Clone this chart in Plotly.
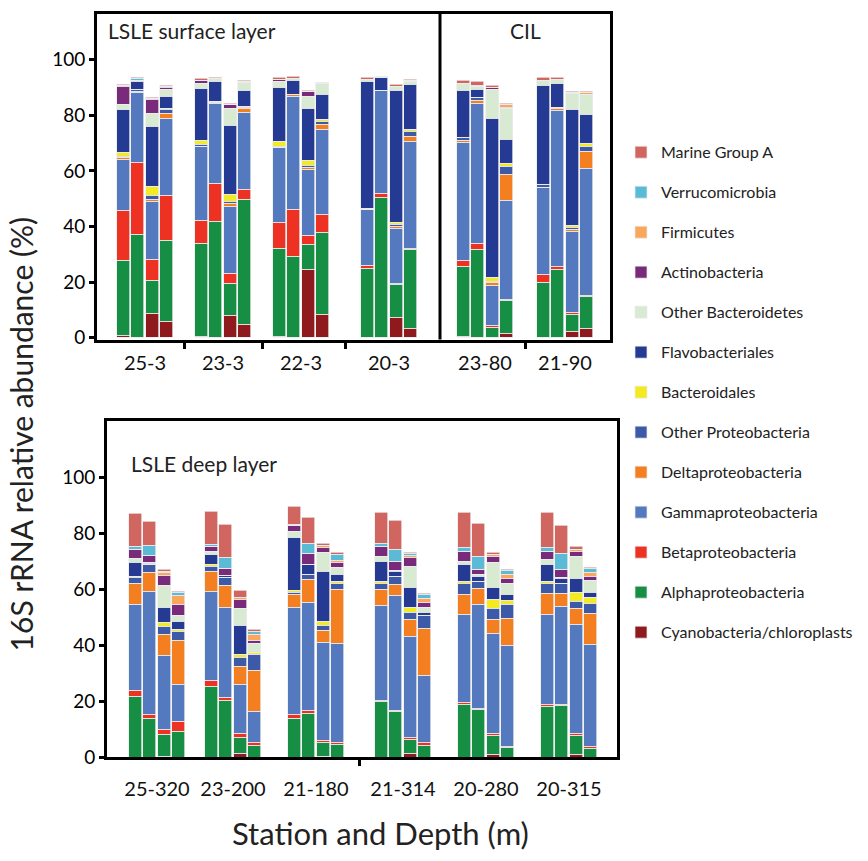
import plotly.graph_objects as go

W, H = 868, 861
FONT = "Lato"

# ---------------- data ----------------
categories = ["Cyanobacteria/chloroplasts", "Alphaproteobacteria", "Betaproteobacteria",
              "Gammaproteobacteria", "Deltaproteobacteria", "Other Proteobacteria",
              "Bacteroidales", "Flavobacteriales", "Other Bacteroidetes", "Actinobacteria",
              "Firmicutes", "Verrucomicrobia", "Marine Group A"]
colors = ["#8e1a1e", "#168e44", "#ed3224", "#5479be", "#f47f20", "#3d5aa8",
          "#f4ea21", "#253a93", "#d9ead3", "#7a2a7b", "#f9a75c", "#5bbad5", "#d0665f"]

top_stations = ["25-3", "23-3", "22-3", "20-3", "23-80", "21-90"]
bottom_stations = ["25-320", "23-200", "21-180", "21-314", "20-280", "20-315"]

# top panel (4 bars per station, 24 bars)
cyano_top = [0.5, 0, 8.4, 5.7, 0.3, 0, 7.8, 4.7, 0.3, 0, 24.4, 8.1, 0, 0, 7.2, 3.1, 0.3, 0, 0, 1.3, 0, 0, 2.2, 3.1]
alpha_top = [27, 37, 12.1, 29, 33.6, 41.6, 11.6, 44.8, 31.8, 29.1, 8.9, 29.7, 24.7, 50.4, 11.9, 28.4, 25.3, 31.5, 3.7, 11.8, 19.9, 24.4, 5.9, 11.5]
beta_top = [18, 26, 7.4, 16.3, 8.3, 13.9, 3.6, 3.8, 9.2, 17, 3.5, 6.5, 1.2, 1.2, 0.3, 0.6, 2, 2.4, 0.6, 0.6, 2.7, 1.2, 0.7, 0.6]
gamma_top = [18.5, 25.2, 20.8, 27.6, 26.4, 28.5, 24.1, 27.6, 26.9, 40.7, 23.7, 30.4, 20, 37.3, 19.8, 38.2, 42.4, 50.1, 14.4, 35.6, 31.4, 55.9, 29.4, 45.5]
delta_top = [0.7, 0.4, 0.9, 2, 0, 0.5, 1, 1.5, 0, 0.6, 0.6, 1.8, 0, 0, 0.6, 2.1, 0.8, 1.1, 1, 9.2, 0, 0.7, 0.6, 6.3]
otherp_top = [0.3, 0.4, 1.4, 1.3, 0.6, 0.2, 0.9, 0.3, 0.6, 0, 0.9, 1.2, 0.4, 0, 0.9, 1.7, 1, 1.1, 0.5, 2.8, 0.9, 0.5, 0.7, 1.6]
bacteroidales_top = [1.5, 0, 3.2, 0.5, 1.6, 0, 2.3, 0.3, 1.5, 0, 1.5, 0.6, 0, 0, 0.5, 0.5, 0, 0, 1.2, 1.2, 0, 0, 0.9, 1]
flavo_top = [15.5, 3.1, 21.5, 4.3, 18.7, 7.2, 24.8, 5.9, 19.6, 5, 18.7, 9.2, 45.8, 4.6, 47.7, 16.3, 17.1, 3.1, 57.2, 8.7, 35.6, 8.6, 41.4, 10.4]
otherb_top = [1.6, 0.3, 4.9, 2.5, 1.8, 1.2, 6.1, 2.7, 2, 0.7, 4.4, 3.8, 0.5, 0, 1.2, 1.2, 2.4, 0.8, 10.7, 11, 2, 1.4, 5.9, 7.5]
actino_top = [6.7, 0, 5.1, 0.7, 1.2, 0, 1.4, 0.3, 0.8, 0, 1.7, 0, 0.3, 0, 0.3, 0.3, 0, 0, 0.6, 0.6, 0, 0, 0.4, 0]
firm_top = [0.2, 0, 0.2, 0.3, 0, 0, 0, 0, 0, 0, 0, 0, 0, 0, 0, 0, 0, 0, 0, 0.8, 0, 0, 0, 0.6]
verr_top = [0, 0.7, 0.1, 0, 0, 0, 0, 0, 0, 0, 0, 0.4, 0, 0.4, 0, 0, 0, 0.6, 0, 0, 0, 0, 0, 0]
mga_top = [0.4, 0.4, 0.3, 0.4, 0.5, 0.5, 0.6, 0.5, 0.6, 0.6, 0.5, 0, 0.6, 0, 0.7, 0.4, 1.2, 1.2, 0.6, 0.6, 0.8, 0.6, 0.5, 0.5]

# bottom panel (4 bars per station, 24 bars)
cyano_bot = [0, 0, 0.3, 0, 0, 0, 1.2, 0, 0, 0, 0.3, 0, 0, 0, 1.3, 0, 0, 0, 1, 0, 0, 0, 1, 0]
alpha_bot = [21.6, 14, 7.7, 9.2, 25.4, 20.4, 6, 4.2, 13.7, 15.8, 5.1, 4.6, 19.8, 16.4, 4.9, 4.2, 19, 17, 6.8, 3.3, 18.1, 18.4, 6.8, 3.1]
beta_bot = [2.3, 1.1, 1.8, 3.6, 2, 0.9, 1.2, 1.1, 1.4, 0.8, 0.6, 0.5, 0.6, 0.4, 1, 0.9, 0.6, 0.4, 0.6, 0.6, 0.6, 0.6, 0.6, 0.6]
gamma_bot = [30.9, 44.3, 26.5, 13.2, 32, 32.1, 17.6, 11.1, 38.6, 38.6, 35, 35.7, 33.9, 41, 36.1, 24.2, 31.4, 37.4, 35.9, 36, 32.3, 34.9, 39.2, 36.5]
delta_bot = [7.5, 6.7, 7.6, 15.6, 7, 8, 6.5, 14.7, 4.4, 8.5, 4.4, 19.2, 5.7, 3.9, 5.9, 16.8, 7.1, 5.4, 4.9, 9.9, 7.4, 4.5, 5.5, 11.2]
otherp_bot = [1.9, 2.9, 2.7, 3.5, 2, 2.9, 3.2, 5.8, 0.9, 1.8, 1.8, 2.3, 2, 2.8, 2.5, 4.7, 3.9, 2.6, 4.1, 4.7, 3.6, 3.6, 2.6, 3.7]
bacteroidales_bot = [0.5, 0, 1.6, 0.5, 0.4, 0, 1.2, 0.4, 0.6, 0, 1.5, 0.5, 0.8, 0, 2, 0, 0.8, 0, 3.3, 1.6, 0.8, 0, 3.3, 2.2]
flavo_bot = [4.9, 0.3, 5.5, 2.8, 3.8, 0.6, 10.1, 0.5, 19.1, 3.3, 17.7, 2.7, 7.4, 1.8, 7.1, 0.9, 6.2, 1.9, 4.3, 2, 6.2, 2, 5, 1.5]
otherb_bot = [1.4, 0.3, 7.7, 2.4, 0.9, 0, 6.1, 3, 2.1, 0.2, 7, 2.3, 1.8, 0.5, 7.4, 1.7, 1.2, 0.5, 8.6, 4.2, 1.6, 0.3, 8, 4.6]
actino_bot = [3.3, 2.6, 3.7, 3.7, 1.8, 2.6, 3.2, 0.9, 2, 3.8, 1.8, 2, 3.3, 3.1, 3.2, 2.1, 3.5, 1.8, 2.4, 1.7, 3.1, 3, 1.7, 1.2]
firm_bot = [0.2, 0, 0.9, 3.3, 0, 0, 0.7, 2.2, 0, 0, 0.6, 0.7, 0, 0, 0.8, 1.2, 0, 0, 0.6, 1.5, 0, 0, 0.8, 1.5]
verr_bot = [0.9, 3.5, 0.6, 1, 0.7, 3.9, 0, 1.2, 0.5, 3.7, 0, 2, 1.1, 4.4, 0.6, 1.4, 1.2, 4.8, 0, 1.2, 1.2, 5.5, 0, 1.4]
mga_bot = [11.8, 8.6, 0.6, 0.4, 11.9, 11.8, 2.6, 0.7, 6.3, 9.2, 0.6, 0.6, 11.2, 10.3, 0.6, 0.6, 12.6, 12, 0.8, 0.6, 12.6, 10, 0.8, 0.4]

y_ticks = [0, 20, 40, 60, 80, 100]

top_series = [cyano_top, alpha_top, beta_top, gamma_top, delta_top, otherp_top, bacteroidales_top,
              flavo_top, otherb_top, actino_top, firm_top, verr_top, mga_top]
bot_series = [cyano_bot, alpha_bot, beta_bot, gamma_bot, delta_bot, otherp_bot, bacteroidales_bot,
              flavo_bot, otherb_bot, actino_bot, firm_bot, verr_bot, mga_bot]

# ---------------- layout positions (pixel-like axis units) ----------------
top_centers = [145, 223, 301, 389, 485, 565]
bot_centers = [157, 233, 316, 403, 486, 569]
PITCH = 14.6
BAR_W = 13.0


def bar_positions(centers):
    xs = []
    for c in centers:
        for j in range(4):
            xs.append(c + (j - 1.5) * PITCH)
    return xs


def midpoints(centers):
    return [(a + b) / 2 for a, b in zip(centers[:-1], centers[1:])]


x_top = bar_positions(top_centers)
x_bot = bar_positions(bot_centers)

fig = go.Figure()
edge = dict(color="rgba(235,235,235,0.9)", width=0.8)
n = len(categories)
for i, (name, col, vt, vb) in enumerate(zip(categories, colors, top_series, bot_series)):
    rank = n - i
    fig.add_trace(go.Bar(x=x_top, y=vt, name=name, marker=dict(color=col, line=edge),
                         width=BAR_W, legendgroup=name, legendrank=rank, showlegend=True,
                         xaxis="x", yaxis="y"))
    fig.add_trace(go.Bar(x=x_bot, y=vb, name=name, marker=dict(color=col, line=edge),
                         width=BAR_W, legendgroup=name, legendrank=rank, showlegend=False,
                         xaxis="x2", yaxis="y2"))


def px_x(p):
    return p / W


def px_y(p):
    return 1 - p / H


axis_common = dict(showline=True, linecolor="black", linewidth=3, mirror=True,
                   showgrid=False, zeroline=False)
ytick_font = dict(family=FONT, size=19, color="black")
xtick_font = dict(family=FONT, size=20, color="#111")

top_seps = midpoints(top_centers)
top_minor = [top_seps[0], top_seps[1], top_seps[2], top_seps[4]]
bot_seps = midpoints(bot_centers)

fig.update_layout(
    width=W, height=H, margin=dict(l=0, r=0, t=0, b=0),
    paper_bgcolor="white", plot_bgcolor="white",
    barmode="stack", bargap=0,
    font=dict(family=FONT, color="black"),
    xaxis=dict(domain=[px_x(97), px_x(610)], range=[97, 610], anchor="y",
               tickmode="array", tickvals=top_centers, ticktext=top_stations,
               ticks="", tickfont=xtick_font, ticklabelstandoff=3,
               minor=dict(tickmode="array", tickvals=top_minor, ticks="outside",
                          ticklen=6, tickwidth=2.5, tickcolor="black"),
               **axis_common),
    yaxis=dict(domain=[px_y(344), px_y(14)], range=[-0.7, 116.5], anchor="x",
               tickmode="array", tickvals=y_ticks, ticks="outside", ticklen=5,
               tickwidth=2.5, tickcolor="black", tickfont=ytick_font, **axis_common),
    xaxis2=dict(domain=[px_x(107), px_x(617)], range=[107, 617], anchor="y2",
                tickmode="array", tickvals=bot_centers, ticktext=bottom_stations,
                ticks="", tickfont=xtick_font, ticklabelstandoff=12,
                minor=dict(tickmode="array", tickvals=[bot_seps[2]], ticks="outside",
                           ticklen=6, tickwidth=2.5, tickcolor="black"),
                **axis_common),
    yaxis2=dict(domain=[px_y(767), px_y(426)], range=[0, 120.5], anchor="x2",
                tickmode="array", tickvals=y_ticks, ticks="outside", ticklen=5,
                tickwidth=2.5, tickcolor="black", tickfont=ytick_font, **axis_common),
    legend=dict(x=px_x(621), y=px_y(137), xanchor="left", yanchor="top",
                traceorder="grouped", tracegroupgap=16.2,
                font=dict(family=FONT, size=16, color="#222"),
                bgcolor="rgba(0,0,0,0)"),
    shapes=[dict(type="line", xref="x", yref="paper", x0=440, x1=440,
                 y0=px_y(344), y1=px_y(14), line=dict(color="black", width=3))],
    annotations=[
        dict(text="LSLE surface layer", xref="paper", yref="paper", x=px_x(106), y=px_y(31),
             xanchor="left", yanchor="middle", showarrow=False,
             font=dict(family=FONT, size=21, color="#222")),
        dict(text="CIL", xref="paper", yref="paper", x=px_x(525), y=px_y(31),
             xanchor="center", yanchor="middle", showarrow=False,
             font=dict(family=FONT, size=21, color="#222")),
        dict(text="LSLE deep layer", xref="paper", yref="paper", x=px_x(129), y=px_y(470),
             xanchor="left", yanchor="middle", showarrow=False,
             font=dict(family=FONT, size=21, color="#222")),
        dict(text="16S rRNA relative abundance (%)", xref="paper", yref="paper",
             x=px_x(21), y=px_y(440), xanchor="center", yanchor="middle", textangle=-90,
             showarrow=False, font=dict(family=FONT, size=30, color="#222")),
        dict(text="Station and Depth (m)", xref="paper", yref="paper",
             x=px_x(380), y=px_y(844), xanchor="center", yanchor="middle",
             showarrow=False, font=dict(family=FONT, size=31, color="#222")),
    ],
)

fig.write_html("out.html")
